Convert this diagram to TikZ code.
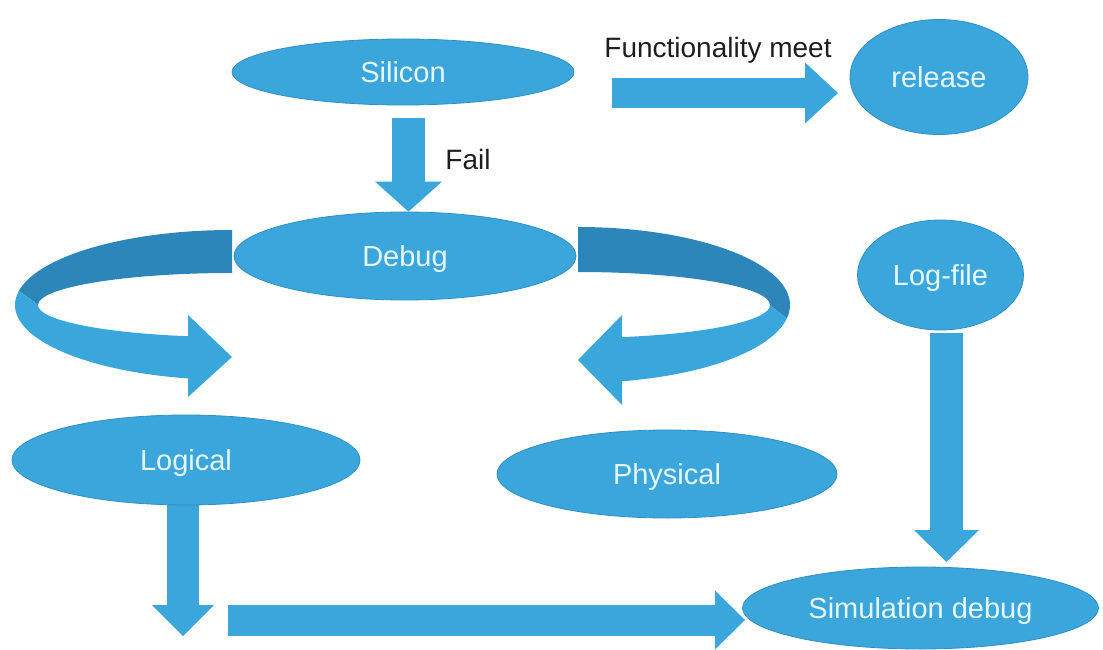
\documentclass[tikz,border=0pt]{standalone}
\usepackage{fontspec}
\setmainfont{Liberation Sans}
\usetikzlibrary{shapes.geometric,arrows.meta,backgrounds,calc}

\definecolor{boxblue}{HTML}{3AA6DB}
\definecolor{edgeblue}{HTML}{2F90C6}
\definecolor{bandlight}{HTML}{3AA7DC}
\definecolor{banddark}{HTML}{2C86BA}
\definecolor{labelwhite}{HTML}{E6F8FF}
\definecolor{inkgray}{HTML}{1E1E1E}

\tikzset{
  x=1pt, y=1pt,
  blob/.style={ellipse, fill=boxblue, draw=edgeblue, line width=0.8pt,
    inner sep=0pt, text=labelwhite,
    font=\fontsize{29}{34}\selectfont, text height=21pt, text depth=0pt},
  caption/.style={text=inkgray, inner sep=0pt,
    font=\fontsize{28}{33}\selectfont, text height=20pt, text depth=0pt},
  blockarrow/.style={draw=boxblue, line width=#1},
  bandback/.style={fill=banddark},
  bandfront/.style={fill=bandlight},
}

\begin{document}
\begin{tikzpicture}
\useasboundingbox (0,0) rectangle (1103,649);

% process states
\node[blob, minimum width=342, minimum height=66]  (silicon)  at (403,577) {Silicon};
\node[blob, minimum width=178, minimum height=115] (release)  at (939,572) {release};
\node[blob, minimum width=342, minimum height=88]  (debug)    at (405,393) {Debug};
\node[blob, minimum width=166, minimum height=110] (logfile)  at (940.5,374) {Log-file};
\node[blob, minimum width=348, minimum height=90]  (logical)  at (186,189) {Logical};
\node[blob, minimum width=340, minimum height=88]  (physical) at (667,175) {Physical};
\node[blob, minimum width=356, minimum height=82]  (simdebug) at (920.5,41) {Simulation debug};

% edge captions
\node[caption] (meet) at (718,601) {Functionality meet};
\node[caption] (fail) at (468,489) {Fail};

% anchor points of the straight block arrows
\coordinate (failtop)  at (408.5,531);
\coordinate (meetfrom) at (612,556);
\coordinate (meetto)   at (838,556);
\coordinate (logfrom)  at (946.5,316);
\coordinate (logto)    at (946.5,87);
\coordinate (lgcfrom)  at (183,144);
\coordinate (lgcto)    at (183,13);
\coordinate (simfrom)  at (228,29);
\coordinate (simto)    at (745,29);

\begin{scope}[on background layer]
  % straight block arrows
  \draw[blockarrow=33pt, -{Triangle[length=30pt, width=67pt, line width=0pt]}]
    (failtop) -- (failtop |- debug.north);
  \draw[blockarrow=30pt, -{Triangle[length=33pt, width=61pt, line width=0pt]}]
    (meetfrom) -- (meetto);
  \draw[blockarrow=33pt, -{Triangle[length=32pt, width=65pt, line width=0pt]}]
    (logfrom) -- (logto);
  \draw[blockarrow=32pt, -{Triangle[length=31pt, width=62pt, line width=0pt]}]
    (lgcfrom) -- (lgcto);
  \draw[blockarrow=31pt, -{Triangle[length=30pt, width=59pt, line width=0pt]}]
    (simfrom) -- (simto);

  % curved ribbon arrow from Debug towards Logical (left)
  \fill[bandback] (232,419) arc[start angle=90, end angle=169, x radius=217, y radius=75]
    -- (38,344) arc[start angle=180, end angle=90, x radius=194, y radius=32] -- cycle;
  \fill[bandfront] (19.0,358.3) arc[start angle=169, end angle=258.3, x radius=217, y radius=75]
    -- (188,252) -- (232,292) -- (188,334) -- (188,312.8)
    arc[start angle=256.9, end angle=180, x radius=194, y radius=32] -- cycle;

  % curved ribbon arrow from Debug towards Physical (right)
  \fill[bandback] (578,422) arc[start angle=90, end angle=-10, x radius=212, y radius=78]
    -- (770,344) arc[start angle=0, end angle=90, x radius=192, y radius=33] -- cycle;
  \fill[bandfront] (786.8,330.5) arc[start angle=-10, end angle=-78, x radius=212, y radius=78]
    -- (622,244) -- (578,289) -- (622,334) -- (621.9,311.9)
    arc[start angle=-76.8, end angle=0, x radius=192, y radius=33] -- cycle;
\end{scope}
\end{tikzpicture}
\end{document}
